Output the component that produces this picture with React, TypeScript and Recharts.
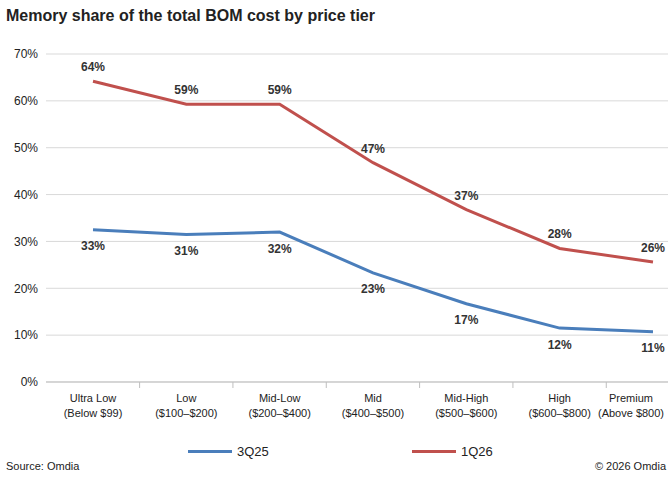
import React from 'react'
import { LineChart, Line, XAxis, YAxis, CartesianGrid, LabelList } from 'recharts'

const categories = [
  ['Ultra Low', '(Below $99)'],
  ['Low', '($100–$200)'],
  ['Mid-Low', '($200–$400)'],
  ['Mid', '($400–$500)'],
  ['Mid-High', '($500–$600)'],
  ['High', '($600–$800)'],
  ['Premium', '(Above $800)'],
]
const q325 = [32.5, 31.5, 32, 23.3, 16.7, 11.5, 10.7]
const q126 = [64.2, 59.3, 59.3, 46.8, 36.8, 28.5, 25.6]
const labels325 = ['33%', '31%', '32%', '23%', '17%', '12%', '11%']
const labels126 = ['64%', '59%', '59%', '47%', '37%', '28%', '26%']
const yTicks = [0, 10, 20, 30, 40, 50, 60, 70]

const BLUE = '#4a7ebb'
const RED = '#c0504d'
const FONT = 'Arial, "Liberation Sans", sans-serif'

const data = categories.map((c, i) => ({
  name: i,
  q325: q325[i],
  q126: q126[i],
  l325: labels325[i],
  l126: labels126[i],
}))

const CatTick = (props: any) => {
  const { x, y, payload } = props
  const [a, b] = categories[payload.value]
  // last label is pulled left so it stays inside the picture
  const tx = payload.value === categories.length - 1 ? x - 22 : x
  return (
    <g>
      <line x1={x + 46.6} x2={x + 46.6} y1={y - 8} y2={y - 2} stroke="#bfbfbf" />
      <text x={tx} y={y + 12} textAnchor="middle" fontSize={11} fill="#222" fontFamily={FONT}>
        <tspan x={tx} dy={0}>{a}</tspan>
        <tspan x={tx} dy={15}>{b}</tspan>
      </text>
    </g>
  )
}

export default function App() {
  return (
    <div style={{ position: 'absolute', left: 0, top: 0, width: 670, height: 488, background: '#fff', fontFamily: FONT }}>
      <div style={{ position: 'absolute', left: 6, top: 7, fontSize: 16, fontWeight: 'bold', color: '#222' }}>
        Memory share of the total BOM cost by price tier
      </div>
      <div style={{ position: 'absolute', left: 0, top: 40 }}>
        <LineChart width={670} height={420} data={data} margin={{ top: 14, right: 2, bottom: 30, left: 6 }}>
          <CartesianGrid vertical={false} stroke="#d9d9d9" />
          <XAxis dataKey="name" type="category" tick={<CatTick />} tickLine={false} axisLine={{ stroke: '#bfbfbf' }} height={48} interval={0}
            padding={{ left: 47, right: 15 }} />
          <YAxis domain={[0, 70]} ticks={yTicks} tickFormatter={(v) => `${v}%`} axisLine={false} tickLine={false} width={40}
            tick={{ fontSize: 12, fill: '#222', fontFamily: FONT }} />
          <Line dataKey="q325" stroke={BLUE} strokeWidth={3} dot={false} isAnimationActive={false}>
            <LabelList dataKey="l325" position="bottom" offset={12} style={{ fontSize: 12, fontWeight: 'bold', fill: '#333', fontFamily: FONT }} />
          </Line>
          <Line dataKey="q126" stroke={RED} strokeWidth={3} dot={false} isAnimationActive={false}>
            <LabelList dataKey="l126" position="top" offset={10} style={{ fontSize: 12, fontWeight: 'bold', fill: '#333', fontFamily: FONT }} />
          </Line>
        </LineChart>
      </div>
      <div style={{ position: 'absolute', left: 188, top: 450, width: 44, height: 3, background: BLUE }} />
      <div style={{ position: 'absolute', left: 237, top: 444, fontSize: 13, color: '#222' }}>3Q25</div>
      <div style={{ position: 'absolute', left: 412, top: 450, width: 44, height: 3, background: RED }} />
      <div style={{ position: 'absolute', left: 461, top: 444, fontSize: 13, color: '#222' }}>1Q26</div>
      <div style={{ position: 'absolute', left: 6, top: 460, fontSize: 11, color: '#222' }}>Source: Omdia</div>
      <div style={{ position: 'absolute', right: 4, top: 460, fontSize: 11, color: '#222' }}>© 2026 Omdia</div>
    </div>
  )
}
